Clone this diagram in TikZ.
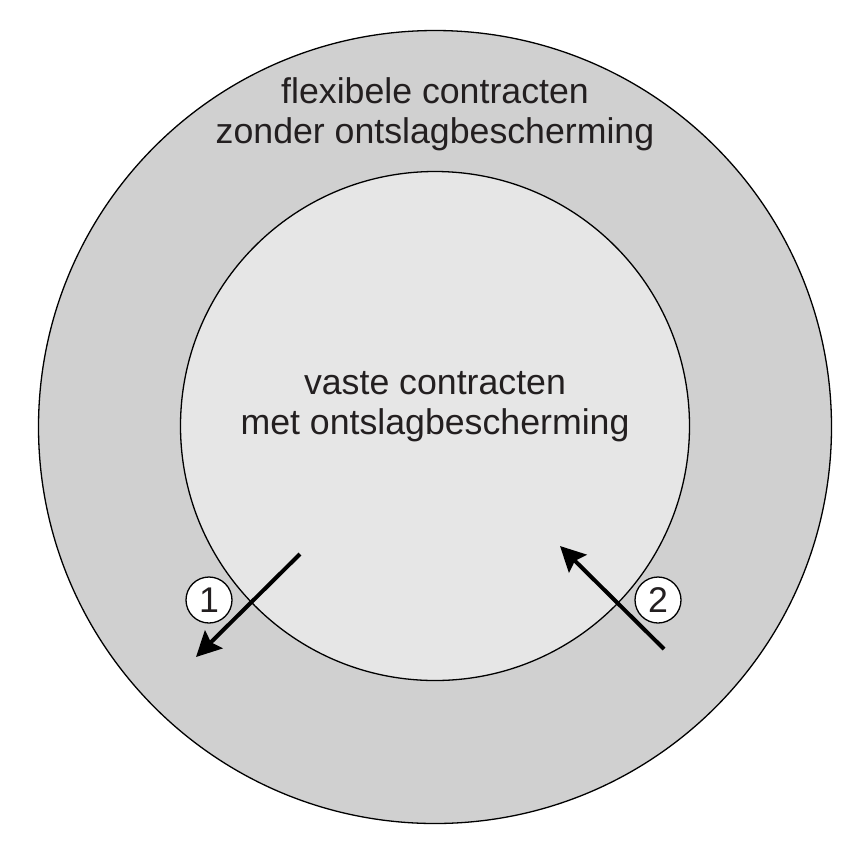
\documentclass[tikz,border=0pt]{standalone}
\usepackage{fontspec}
\setmainfont{Liberation Sans}
\usetikzlibrary{arrows.meta}
\definecolor{outergray}{HTML}{D0D0D0}
\definecolor{innergray}{HTML}{E6E6E6}
\definecolor{txt}{HTML}{231F20}
\begin{document}
\begin{tikzpicture}[x=1pt,y=-1pt,
  ring/.style={draw=black, line width=1.3pt},
  lbl/.style={font=\fontsize{35.7}{40}\selectfont, text=txt, align=center},
  num/.style={circle, draw=black, fill=white, line width=1.3pt, minimum size=46pt, inner sep=0pt, font=\fontsize{35.7}{40}\selectfont, text=txt},
  flow/.style={line width=4pt, -{Stealth[length=25pt,width=25pt,inset=4pt]}}]
\useasboundingbox (0,0) rectangle (867,847);
\fill[white] (0,0) rectangle (867,847);
\node[ring, circle, fill=outergray, minimum size=793pt, inner sep=0pt] (outer) at (435,427) {};
\node[ring, circle, fill=innergray, minimum size=509pt, inner sep=0pt] (inner) at (435,426) {};
\node[lbl] (outertext) at (435,114) {flexibele contracten\\zonder ontslagbescherming};
\node[lbl] (innertext) at (435,407) {vaste contracten\\met ontslagbescherming};
\coordinate (s1) at (300,554);
\coordinate (e1) at (196,657);
\coordinate (s2) at (664,649);
\coordinate (e2) at (560,546);
\draw[flow] (s1) -- (e1);
\draw[flow] (s2) -- (e2);
\node[num] (n1) at (209,600) {1};
\node[num] (n2) at (658,600) {2};
\end{tikzpicture}
\end{document}
